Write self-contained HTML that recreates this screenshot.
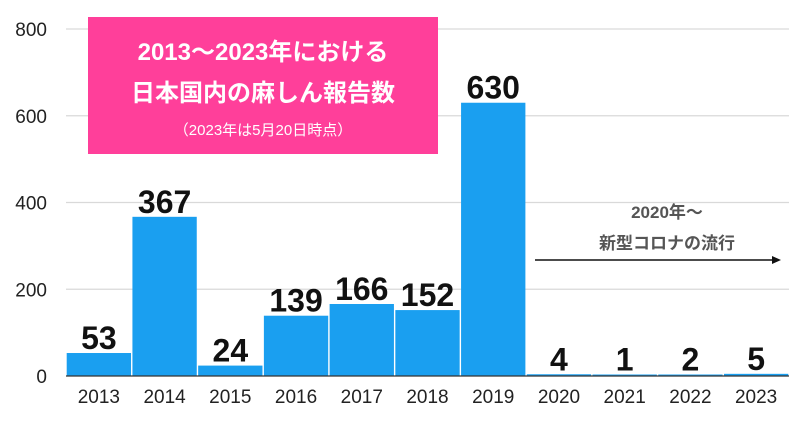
<!DOCTYPE html>
<html><head><meta charset="utf-8"><style>
body{margin:0;background:#fff}
svg{display:block;font-family:"Liberation Sans","Noto Sans CJK JP",sans-serif}
</style></head><body>
<svg id="c" width="800" height="421"></svg>
<script>
const categories=["2013","2014","2015","2016","2017","2018","2019","2020","2021","2022","2023"];
const values=[53,367,24,139,166,152,630,4,1,2,5];
const yTicks=[0,200,400,600,800];
const svg=document.getElementById('c');
const NS='http://www.w3.org/2000/svg';
const x0=66,x1=789,yBase=376,yTop=29,yMax=800;
const bw=(x1-x0)/categories.length;
const y=v=>yBase-(v/yMax)*(yBase-yTop);
const xb=i=>x0+i*bw;
function mk(t,a,txt){const e=document.createElementNS(NS,t);for(const k in a)e.setAttribute(k,a[k]);if(txt!=null)e.textContent=txt;svg.appendChild(e);return e;}
yTicks.forEach(t=>{
 if(t>0){const g=mk('line',{x1:x0,x2:x1,y1:y(t),y2:y(t),stroke:'#d9d9d9','stroke-width':1.2});
 
 }
 const l=mk('text',{x:47,y:y(t)+7,'text-anchor':'end','font-size':19,fill:'#222'},t);
 
 
});
categories.forEach((c,i)=>{
 const h=Math.max(yBase-y(values[i]),1.5);
 const r=mk('rect',{x:xb(i)+0.7,y:yBase-h,width:bw-1.4,height:h,fill:'#1a9ff0'});
 
 
 const v=mk('text',{x:xb(i)+bw/2,y:yBase-h-4,'text-anchor':'middle','font-size':32,'font-weight':'bold',fill:'#111'},values[i]);
 
 
 const t=mk('text',{x:xb(i)+bw/2,y:403,'text-anchor':'middle','font-size':19,fill:'#222'},c);
 
 
});
const ax=mk('line',{x1:x0,x2:x1,y1:yBase,y2:yBase,stroke:'#333','stroke-width':1.2});


const box=mk('rect',{x:88,y:17,width:350,height:137,fill:'#ff3f9a'});


const t1=mk('text',{x:263,y:60,'text-anchor':'middle','font-size':24,'font-weight':'bold',fill:'#fff'},'2013〜2023年における');


const t2=mk('text',{x:263,y:101,'text-anchor':'middle','font-size':24,'font-weight':'bold',fill:'#fff'},'日本国内の麻しん報告数');


const t3=mk('text',{x:263,y:135,'text-anchor':'middle','font-size':15,fill:'#fff'},'（2023年は5月20日時点）');


const a1=mk('text',{x:667,y:218,'text-anchor':'middle','font-size':17,'font-weight':'bold',fill:'#555'},'2020年〜');


const a2=mk('text',{x:667,y:249,'text-anchor':'middle','font-size':17,'font-weight':'bold',fill:'#555'},'新型コロナの流行');


const ar=mk('line',{x1:535,x2:774,y1:260,y2:260,stroke:'#111','stroke-width':1.5});


const ah=mk('polygon',{points:'781,260 772,256 772,264',fill:'#111'});


</script>
</body></html>
